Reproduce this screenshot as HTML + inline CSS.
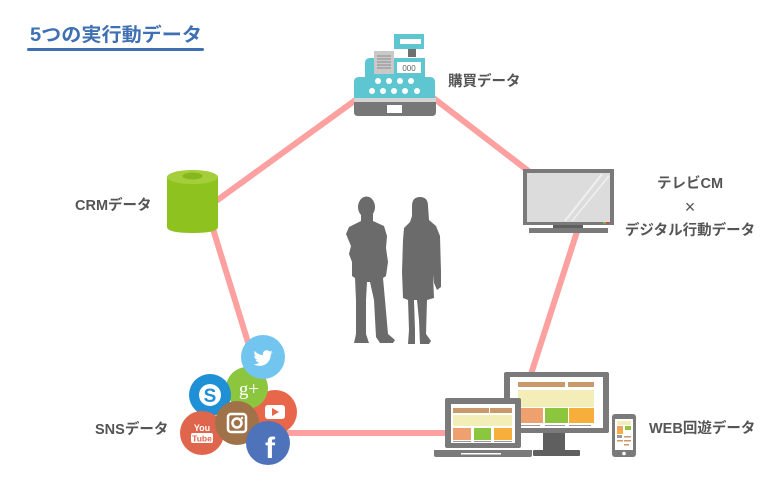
<!DOCTYPE html>
<html><head><meta charset="utf-8"><style>
html,body{margin:0;padding:0;background:#fff;}
svg{display:block;}
.lb{font-family:"Liberation Sans","Noto Sans CJK JP",sans-serif;font-weight:bold;fill:#555;font-size:14.5px;}
</style></head><body>
<svg width="784" height="500" viewBox="0 0 784 500" xmlns="http://www.w3.org/2000/svg">
<rect width="784" height="500" fill="#fff"/>
<!-- title -->
<text x="30" y="41" font-family="'Liberation Sans','Noto Sans CJK JP',sans-serif" font-weight="bold" font-size="19" fill="#3f70b3" textLength="172" lengthAdjust="spacingAndGlyphs">5つの実行動データ</text>
<rect x="27" y="48" width="177" height="3" rx="1.5" fill="#3f70b3"/>

<!-- pentagon lines -->
<g stroke="#fda0a0" stroke-width="6" fill="none" stroke-linecap="butt">
<polygon points="397,70 583,213 512,433 276,433 206.5,208"/>
</g>

<!-- cash register -->
<g>
<rect x="394" y="34" width="30" height="15" fill="#5ec6d0"/>
<rect x="400" y="39" width="21" height="5" fill="#fff"/>
<rect x="408" y="49" width="8" height="8" fill="#6f6f6f"/>
<path d="M365,77 L365,63 Q365,58 370,58 L425,58 L425,77 Z" fill="#5ec6d0"/>
<path d="M354,98 L354,82 Q354,77 359,77 L430,77 Q435,77 435,82 L435,98 Z" fill="#5ec6d0"/>
<rect x="374" y="51" width="20" height="23" fill="#c9c9c9"/>
<g stroke="#8a8a8a" stroke-width="1">
<line x1="377" y1="56" x2="391" y2="56"/><line x1="377" y1="59" x2="391" y2="59"/><line x1="377" y1="62" x2="391" y2="62"/><line x1="377" y1="65" x2="391" y2="65"/><line x1="377" y1="68" x2="391" y2="68"/>
</g>
<rect x="397" y="62" width="24" height="11" fill="#fff"/>
<text x="409" y="71" font-family="'Liberation Sans',sans-serif" font-size="8" fill="#666" text-anchor="middle">000</text>
<g fill="#fff">
<circle cx="378" cy="81" r="3"/><circle cx="389" cy="81" r="3"/><circle cx="400" cy="81" r="3"/><circle cx="411" cy="81" r="3"/>
<circle cx="372" cy="91" r="3"/><circle cx="383" cy="91" r="3"/><circle cx="394" cy="91" r="3"/><circle cx="405" cy="91" r="3"/><circle cx="417" cy="91" r="3"/>
</g>
<rect x="354" y="98" width="82" height="4" fill="#d4d4d4"/>
<path d="M354,102 L436,102 L436,112 Q436,116 432,116 L358,116 Q354,116 354,112 Z" fill="#777"/>
<rect x="387" y="105" width="15" height="8" fill="#fff"/>
</g>
<text class="lb" x="448" y="86">購買データ</text>

<!-- TV -->
<g>
<rect x="523" y="169" width="91" height="56" fill="#7a7a7a"/>
<rect x="527" y="173" width="83" height="49" fill="#dcdcdc"/>
<line x1="602" y1="174" x2="565" y2="221" stroke="#f0f0f0" stroke-width="2"/>
<line x1="609" y1="176" x2="572" y2="221" stroke="#f0f0f0" stroke-width="1.5"/>
<rect x="603" y="222" width="3" height="1.5" fill="#7ac143"/>
<rect x="606" y="222" width="3" height="1.5" fill="#e53935"/>
<rect x="553" y="225" width="30" height="4" fill="#5f5f5f"/>
<rect x="529" y="228" width="79" height="5" fill="#7a7a7a"/>
</g>
<text class="lb" x="690" y="188" text-anchor="middle">テレビCM</text>
<text x="690" y="213" text-anchor="middle" font-family="'Liberation Sans',sans-serif" font-size="18" fill="#555">×</text>
<text class="lb" x="690" y="235" text-anchor="middle">デジタル行動データ</text>

<!-- CRM cylinder -->
<g>
<path d="M167,177 L167,227 Q167,233 192.5,233 Q218,233 218,227 L218,177 Z" fill="#8dc21f"/>
<ellipse cx="192.5" cy="177" rx="25.5" ry="7" fill="#a5cf3a"/>
<ellipse cx="192.5" cy="176" rx="10" ry="3.5" fill="#86b81b"/>
</g>
<text class="lb" x="75" y="210">CRMデータ</text>

<!-- people -->
<g fill="#6b6b6b">
<ellipse cx="366.5" cy="207" rx="8.5" ry="10.5"/>
<path d="M361,214 L373,214 L373,221 L384,226 L387,236 L386,248 L388,262 L386,276 L383,278 L385,300 L388,334 L395,340 L393,343 L380,343 L376,337 L374,300 L370,282 L367,282 L366,300 L366,334 L369,343 L354,343 L356,334 L356,300 L355,278 L352,276 L352,262 L349,254 L351,246 L346,234 L349,227 L361,221 Z"/>
<path d="M412,206 Q412,197 420,197 Q428,197 428,206 L429,220 L436,226 L440,236 L441,272 L441,287 L437,290 L434,283 L433,275 L434,298 L427,300 L426,334 L431,341 L429,344 L420,344 L419,320 L417,300 L414,300 L415,330 L415,344 L408,344 L409,330 L408,300 L403,298 L402,272 L403,240 L404,228 L410,222 L412,216 Z"/>
</g>

<!-- SNS bubbles -->
<g>
<circle cx="275" cy="412" r="22" fill="#e8664a"/>
<rect x="265" y="405" width="20" height="14" rx="3" fill="#fff"/>
<polygon points="272,408 272,416 279,412" fill="#e8664a"/>
<circle cx="247" cy="388" r="21" fill="#8cc63f"/>
<text x="249" y="395" font-family="'Liberation Serif',serif" font-size="19" fill="#fff" text-anchor="middle">g+</text>
<circle cx="263" cy="357" r="22" fill="#72c5ee"/>
<path transform="translate(253.5,348.5) scale(0.8)" fill="#fff" d="M23.954 4.569c-.885.389-1.83.654-2.825.775 1.014-.611 1.794-1.574 2.163-2.723-.951.555-2.005.959-3.127 1.184-.896-.959-2.173-1.559-3.591-1.559-2.717 0-4.920 2.203-4.920 4.917 0 .39.045.765.127 1.124C7.691 8.094 4.066 6.13 1.64 3.161c-.427.722-.666 1.561-.666 2.475 0 1.71.87 3.213 2.188 4.096-.807-.026-1.566-.248-2.228-.616v.061c0 2.385 1.693 4.374 3.946 4.827-.413.111-.849.171-1.296.171-.314 0-.615-.03-.916-.086.631 1.953 2.445 3.377 4.604 3.417-1.68 1.319-3.809 2.105-6.102 2.105-.39 0-.779-.023-1.17-.067 2.189 1.394 4.768 2.209 7.557 2.209 9.054 0 13.999-7.496 13.999-13.986 0-.209 0-.42-.015-.63.961-.689 1.8-1.56 2.46-2.548l-.047-.02z"/>
<circle cx="210" cy="395" r="21" fill="#1f8fd6"/>
<circle cx="210" cy="395" r="11" fill="#fff"/>
<text x="210" y="402" font-family="'Liberation Sans',sans-serif" font-weight="bold" font-size="19" fill="#1f8fd6" text-anchor="middle">S</text>
<circle cx="202" cy="433" r="22" fill="#e0654d"/>
<text x="202" y="431" font-family="'Liberation Sans',sans-serif" font-weight="bold" font-size="9" fill="#fff" text-anchor="middle">You</text>
<rect x="191" y="433" width="22" height="10" rx="2" fill="#fff"/>
<text x="202" y="441.5" font-family="'Liberation Sans',sans-serif" font-weight="bold" font-size="8.5" fill="#e0654d" text-anchor="middle">Tube</text>
<circle cx="237" cy="423" r="22" fill="#a0724a"/>
<rect x="228" y="414" width="18" height="18" rx="3" fill="none" stroke="#fff" stroke-width="2.5"/>
<circle cx="237" cy="423" r="4.5" fill="none" stroke="#fff" stroke-width="2.5"/>
<circle cx="242" cy="418" r="1.2" fill="#fff"/>
<circle cx="268" cy="443" r="22" fill="#4e73bb"/>
<text x="270" y="458" font-family="'Liberation Sans',sans-serif" font-weight="bold" font-size="30" fill="#fff" text-anchor="middle">f</text>
</g>
<text class="lb" x="95" y="434">SNSデータ</text>

<!-- WEB devices -->
<g>
<rect x="543" y="431" width="22" height="20" fill="#5f5f5f"/>
<rect x="533" y="450" width="47" height="6" rx="1" fill="#5f5f5f"/>
<rect x="504" y="372" width="105" height="61" rx="2" fill="#7a7a7a"/>
<rect x="510" y="377" width="93" height="51" fill="#fff"/>
<rect x="518" y="382" width="47" height="5" fill="#c9996a"/>
<rect x="568" y="382" width="26" height="5" fill="#c9996a"/>
<rect x="518" y="390" width="76" height="17" fill="#f3eeb8"/>
<rect x="518" y="408" width="25" height="15" fill="#eea16e"/>
<rect x="545" y="408" width="23" height="15" fill="#8cc63f"/>
<rect x="569" y="408" width="25" height="15" fill="#f8ae3b"/>
<rect x="518" y="425" width="22" height="1" fill="#999"/>
<rect x="545" y="425" width="20" height="1" fill="#999"/>
<rect x="569" y="425" width="22" height="1" fill="#999"/>
<rect x="445" y="398" width="76" height="50" rx="2" fill="#7a7a7a"/>
<rect x="451" y="404" width="64" height="39" fill="#fff"/>
<rect x="453" y="408" width="36" height="5" fill="#c9996a"/>
<rect x="490" y="408" width="22" height="5" fill="#c9996a"/>
<rect x="453" y="415" width="59" height="11" fill="#f3eeb8"/>
<rect x="453" y="428" width="18" height="12" fill="#eea16e"/>
<rect x="474" y="428" width="17" height="12" fill="#8cc63f"/>
<rect x="494" y="428" width="18" height="12" fill="#f8ae3b"/>
<rect x="453" y="441" width="18" height="1" fill="#999"/>
<rect x="474" y="441" width="17" height="1" fill="#999"/>
<rect x="494" y="441" width="18" height="1" fill="#999"/>
<path d="M434,450 L532,450 L532,455 Q532,457 530,457 L436,457 Q434,457 434,455 Z" fill="#7a7a7a"/>
<rect x="461" y="453" width="40" height="1.5" fill="#fff"/>
<rect x="612" y="414" width="24" height="43" rx="3" fill="#7a7a7a"/>
<rect x="615" y="419" width="18" height="31" fill="#fff"/>
<rect x="617" y="421" width="14" height="4" fill="#f3eeb8"/>
<rect x="617" y="426" width="6" height="4" fill="#eea16e"/>
<rect x="625" y="426" width="6" height="4" fill="#8cc63f"/>
<rect x="617" y="430" width="6" height="4" fill="#f8ae3b"/>
<rect x="617" y="435" width="5" height="3" fill="#999"/>
<rect x="624" y="436" width="7" height="1.5" fill="#c9996a"/>
<rect x="617" y="440" width="6" height="1.5" fill="#c9996a"/>
<rect x="624" y="440" width="7" height="1.5" fill="#c9996a"/>
<rect x="624" y="444" width="5" height="1.5" fill="#c9996a"/>
<circle cx="624" cy="453.5" r="1.8" fill="#fff"/>
</g>
<text class="lb" x="649" y="433">WEB回遊データ</text>
</svg>
</body></html>
